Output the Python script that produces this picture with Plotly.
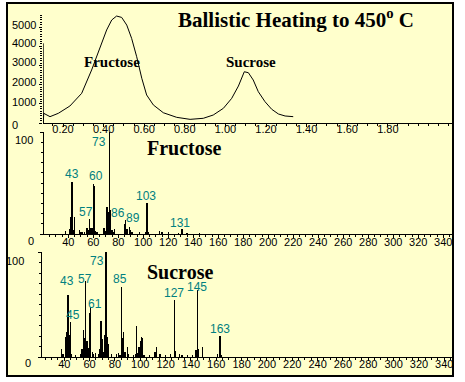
import plotly.graph_objects as go

W, H = 465, 382

# ---------------- data ----------------
# Top: total ion chromatogram (time, abundance)
tic_time = [0.1025, 0.1030, 0.105, 0.136, 0.177, 0.234, 0.292, 0.341, 0.382, 0.415, 0.440,
            0.464, 0.489, 0.514, 0.538, 0.563, 0.588, 0.612, 0.645, 0.694, 0.760, 0.826,
            0.891, 0.940, 0.990, 1.031, 1.064, 1.093, 1.113, 1.137, 1.162, 1.195, 1.228,
            1.261, 1.294, 1.334]
tic_abund = [4150, 0, 505, 330, 505, 885, 1545, 2760, 3975, 4845, 5365,
             5570, 5500, 5100, 4410, 3450, 2330, 1460, 940, 535, 295, 190,
             245, 415, 765, 1285, 1925, 2670, 2620, 2240, 1630, 1110, 715,
             470, 365, 330]
tic_xticks = [0.2, 0.4, 0.6, 0.8, 1.0, 1.2, 1.4, 1.6, 1.8]
tic_xlabels = ["0.20", "0.40", "0.60", "0.80", "1.00", "1.20", "1.40", "1.60", "1.80"]
tic_yticks = [0, 1000, 2000, 3000, 4000, 5000]
tic_ylabels = ["0", "1000", "2000", "3000", "4000", "5000"]

# Middle: Fructose mass spectrum
fru_mz = [38, 41, 42, 43, 44, 45, 49, 50, 51, 53, 55, 56, 57, 58, 59, 60, 61, 62, 63,
          68, 69, 70, 71, 72, 73, 74, 75, 76, 77, 85, 86, 87, 89, 90, 91, 97, 102, 103,
          104, 113, 115, 120, 128, 131, 135, 145]
fru_int = [3, 5, 17, 51, 4, 17, 4, 2, 2, 2, 6, 4, 15, 6, 6, 49, 47, 3, 2,
           6, 6, 3, 26, 22, 100, 24, 4, 2, 5, 10, 14, 5, 7, 4, 2, 2, 2, 30,
           2, 3, 2, 2, 1, 5, 1, 1]
fru_labels = ["73", "43", "60", "57", "86", "89", "103", "131"]

# Bottom: Sucrose mass spectrum
suc_mz = [38, 39, 41, 42, 43, 44, 45, 46, 49, 53, 54, 55, 56, 57, 58, 59, 60, 61, 62,
          63, 65, 67, 68, 69, 70, 71, 72, 73, 74, 75, 77, 81, 83, 84, 85, 86, 87, 88,
          90, 91, 95, 96, 97, 98, 99, 100, 101, 102, 103, 107, 111, 112, 113, 115,
          116, 120, 124, 127, 128, 131, 133, 137, 141, 144, 145, 146, 149, 161, 163, 164]
suc_int = [8, 3, 19, 24, 59, 21, 33, 3, 2, 3, 8, 26, 18, 72, 15, 9, 42, 48, 5,
           3, 4, 3, 8, 34, 17, 5, 21, 100, 19, 12, 3, 3, 4, 2, 67, 18, 24, 5,
           10, 3, 2, 3, 30, 4, 10, 15, 19, 18, 2, 2, 5, 5, 10, 3,
           3, 2, 3, 54, 6, 3, 2, 2, 2, 7, 64, 8, 10, 3, 20, 2]
suc_labels = ["73", "43", "57", "85", "45", "61", "127", "145", "163"]

ms_xticks = list(range(40, 341, 20))
ms_yticks = [0, 100]

# ---------------- helpers ----------------
def px(x):
    return x / W

def py(y):
    return 1 - y / H

TEAL = "#008080"
SANS = "Liberation Sans, Arial, sans-serif"
SERIF = "Liberation Serif, Times New Roman, serif"

fig = go.Figure()

fig.add_trace(go.Scatter(x=tic_time, y=tic_abund, mode="lines",
                         line=dict(color="black", width=1), xaxis="x", yaxis="y",
                         hoverinfo="skip"))
fig.add_trace(go.Bar(x=fru_mz, y=fru_int, width=0.9, marker=dict(color="black", line=dict(width=0)),
                     xaxis="x2", yaxis="y2", hoverinfo="skip"))
fig.add_trace(go.Bar(x=suc_mz, y=suc_int, width=0.9, marker=dict(color="black", line=dict(width=0)),
                     xaxis="x3", yaxis="y3", hoverinfo="skip"))

tickfont = dict(family=SANS, size=11, color="black")

def xaxis_cfg(dom, rng, tv, tt, minor_dt, standoff):
    return dict(domain=dom, range=rng, tickvals=tv, ticktext=tt, ticks="outside", ticklen=3,
                tickcolor="black", tickwidth=1, showline=True, linecolor="black", linewidth=1,
                showgrid=False, zeroline=False, tickfont=tickfont, ticklabelstandoff=standoff,
                minor=dict(dtick=minor_dt, ticks="outside", ticklen=2, tickcolor="black", showgrid=False),
                fixedrange=True)

def yaxis_cfg(dom, rng, tv, minor_dt, showline):
    return dict(domain=dom, range=rng, tickvals=tv, ticks="outside", ticklen=3, tickcolor="black",
                showticklabels=False, showline=showline, linecolor="black", linewidth=1,
                showgrid=False, zeroline=False,
                minor=dict(dtick=minor_dt, ticks="outside", ticklen=2, tickcolor="black", showgrid=False),
                fixedrange=True)

fig.update_layout(
    width=W, height=H, margin=dict(l=0, r=0, t=0, b=0),
    paper_bgcolor="white", plot_bgcolor="rgba(0,0,0,0)", showlegend=False,
    bargap=0,
    xaxis=dict(**xaxis_cfg([px(43), px(453)], [0.1015, 2.121], tic_xticks, tic_xlabels, 0.05, -7), anchor="y"),
    yaxis=yaxis_cfg([py(123), py(15)], [0, 5625], tic_yticks, 125, False) | dict(anchor="x"),
    xaxis2=dict(**xaxis_cfg([px(44), px(453)], [20.6, 347.8], ms_xticks, [str(v) for v in ms_xticks], 5, -5), anchor="y2"),
    yaxis2=yaxis_cfg([py(234), py(132)], [0, 100], ms_yticks, 10, True) | dict(anchor="x2"),
    xaxis3=dict(**xaxis_cfg([px(41.7), px(453)], [22.2, 346.9], ms_xticks, [str(v) for v in ms_xticks], 5, -6), anchor="y3"),
    yaxis3=yaxis_cfg([py(357), py(252)], [0, 100], ms_yticks, 10, True) | dict(anchor="x3"),
)

# background frame
fig.add_shape(type="rect", xref="paper", yref="paper", x0=px(7), x1=px(453), y0=py(376), y1=py(3),
              fillcolor="#FFFFCC", line=dict(width=0), layer="below")
fig.add_shape(type="rect", xref="paper", yref="paper", x0=px(7), x1=px(453), y0=py(376), y1=py(3),
              fillcolor="rgba(0,0,0,0)", line=dict(color="black", width=2), layer="above")

ann = []
# top y tick labels
top_shift = [-2, 2, 3, 3, 3, 2]
for v, t, s in zip(tic_yticks, tic_ylabels, top_shift):
    ann.append(dict(x=px(10), y=v, xref="paper", yref="y", text=t, showarrow=False,
                    xanchor="left", yanchor="middle", yshift=s, font=tickfont))
# spectra y tick labels
for (v, t, xr, s) in [(100, "100", 35, -8), (0, "0", 36, -7)]:
    ann.append(dict(x=px(xr), y=v, xref="paper", yref="y2", text=t, showarrow=False,
                    xanchor="right", yanchor="middle", yshift=s, font=tickfont))
for (v, t, xr, s) in [(100, "100", 26, -9), (0, "0", 33, -6)]:
    ann.append(dict(x=px(xr), y=v, xref="paper", yref="y3", text=t, showarrow=False,
                    xanchor="right", yanchor="middle", yshift=s, font=tickfont))

# titles
ann.append(dict(x=px(296), y=py(19), xref="paper", yref="paper",
                text="<b>Ballistic Heating to 450<sup>o</sup> C</b>", showarrow=False,
                xanchor="center", yanchor="middle", font=dict(family=SERIF, size=21, color="black")))
ann.append(dict(x=px(111.5), y=py(62), xref="paper", yref="paper", text="<b>Fructose</b>",
                showarrow=False, xanchor="center", yanchor="middle",
                font=dict(family=SERIF, size=15, color="black")))
ann.append(dict(x=px(251), y=py(62), xref="paper", yref="paper", text="<b>Sucrose</b>",
                showarrow=False, xanchor="center", yanchor="middle",
                font=dict(family=SERIF, size=15, color="black")))
ann.append(dict(x=px(184.5), y=py(148), xref="paper", yref="paper", text="<b>Fructose</b>",
                showarrow=False, xanchor="center", yanchor="middle",
                font=dict(family=SERIF, size=20, color="black")))
ann.append(dict(x=px(179.5), y=py(272), xref="paper", yref="paper", text="<b>Sucrose</b>",
                showarrow=False, xanchor="center", yanchor="middle",
                font=dict(family=SERIF, size=20, color="black")))

labfont = dict(family=SANS, size=12, color=TEAL)
# peak labels: (x shift, y shift) in pixels relative to the peak top
fru_off = {"73": (-10.5, -10), "43": (0, 8), "60": (2.5, 8), "57": (-3.5, 7), "86": (-8, 7),
           "89": (3, 9), "103": (-1, 7), "131": (-2, 6)}
for lab in fru_labels:
    m = int(lab)
    h = fru_int[fru_mz.index(m)]
    dx, dy = fru_off[lab]
    ann.append(dict(x=m, y=h, xref="x2", yref="y2", text=lab, showarrow=False,
                    xanchor="center", yanchor="middle", xshift=dx, yshift=dy, font=labfont))
suc_off = {"73": (-9, -9), "43": (-1, 14), "57": (-1, 2), "85": (-1, 8), "45": (2, 7),
           "61": (4, 3), "127": (0, 7), "145": (0, 3), "163": (0, 7)}
for lab in suc_labels:
    m = int(lab)
    h = suc_int[suc_mz.index(m)]
    dx, dy = suc_off[lab]
    ann.append(dict(x=m, y=h, xref="x3", yref="y3", text=lab, showarrow=False,
                    xanchor="center", yanchor="middle", xshift=dx, yshift=dy, font=labfont))

fig.update_layout(annotations=ann)

fig.write_html("out.html", config=dict(displayModeBar=False, staticPlot=True),
               post_script="document.body.style.margin='0';document.body.style.overflow='hidden';")
